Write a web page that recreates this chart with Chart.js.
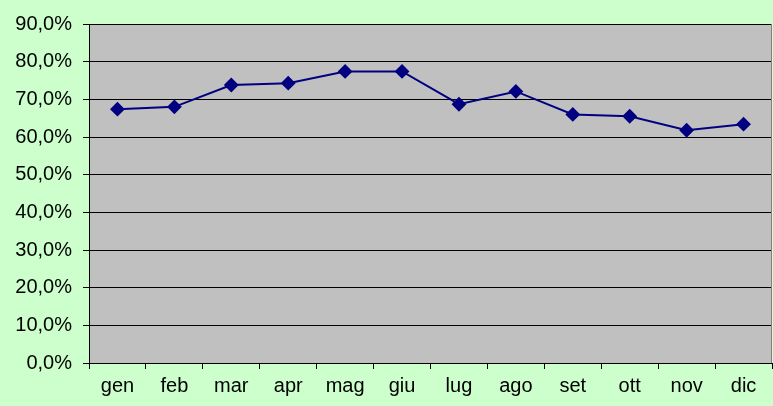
<!DOCTYPE html>
<html>
<head>
<meta charset="utf-8">
<script src="https://cdn.jsdelivr.net/npm/chart.js@4.4.0/dist/chart.umd.min.js"></script>
<style>
    html, body { margin: 0; padding: 0; background: #CCFFCC; overflow: hidden; }
    #chart-container { width: 773px; height: 406px; }
</style>
</head>
<body>
<div id="chart-container"><canvas id="myChart"></canvas></div>
<script>
var months = ["gen", "feb", "mar", "apr", "mag", "giu", "lug", "ago", "set", "ott", "nov", "dic"];
var percentages = [67.4, 68.0, 73.8, 74.3, 77.4, 77.4, 68.7, 72.1, 66.0, 65.5, 61.8, 63.4];
var yTicks = [0, 10, 20, 30, 40, 50, 60, 70, 80, 90];

// grey plot area like the old spreadsheet chart
var plotBackground = {
    id: 'plotBackground',
    beforeDraw: function (chart) {
        var ctx = chart.ctx;
        var a = chart.chartArea;
        ctx.save();
        ctx.fillStyle = '#C0C0C0';
        ctx.fillRect(a.left, a.top, a.right - a.left, a.bottom - a.top);
        ctx.restore();
    },
    afterDatasetsDraw: function (chart) {
        var ctx = chart.ctx;
        var a = chart.chartArea;
        ctx.save();
        ctx.strokeStyle = '#808080';
        ctx.lineWidth = 1;
        ctx.beginPath();
        ctx.moveTo(a.right - 0.5, a.top);
        ctx.lineTo(a.right - 0.5, a.bottom);
        ctx.stroke();
        ctx.restore();
    }
};

var ctx = document.getElementById('myChart');
var myChart = new Chart(ctx, {
    type: 'line',
    data: {
        labels: months,
        datasets: [{
            data: percentages,
            borderColor: '#000080',
            backgroundColor: '#000080',
            borderWidth: 2,
            pointStyle: 'rectRot',
            pointRadius: 6,
            pointHoverRadius: 6,
            tension: 0
        }]
    },
    options: {
        responsive: true,
        maintainAspectRatio: false,
        animation: false,
        layout: { autoPadding: false, padding: { top: 24, right: 1, left: 0, bottom: 0 } },
        plugins: {
            legend: { display: false },
            tooltip: { enabled: false }
        },
        scales: {
            x: {
                offset: true,
                grid: {
                    offset: true,
                    drawOnChartArea: false,
                    color: '#000',
                    tickLength: 6
                },
                border: { color: '#000', width: 1 },
                ticks: {
                    color: '#000',
                    padding: 5,
                    maxRotation: 0,
                    font: { family: 'Liberation Sans, Arial, sans-serif', size: 20 }
                },
                afterFit: function (scale) {
                    scale.height = 43;
                    scale.paddingLeft = 0;
                    scale.paddingRight = 0;
                }
            },
            y: {
                min: 0,
                max: 90,
                afterBuildTicks: function (scale) {
                    scale.ticks = yTicks.map(function (v) { return { value: v }; });
                },
                grid: {
                    color: '#000',
                    lineWidth: 1,
                    tickLength: 6
                },
                border: { color: '#000', width: 1 },
                ticks: {
                    color: '#000',
                    padding: 11,
                    font: { family: 'Liberation Sans, Arial, sans-serif', size: 20 },
                    callback: function (v) { return v.toFixed(1).replace('.', ',') + '%'; }
                },
                afterFit: function (scale) {
                    scale.width = 89;
                    scale.paddingTop = 0;
                    scale.paddingBottom = 0;
                }
            }
        }
    },
    plugins: [plotBackground]
});
</script>
</body>
</html>
